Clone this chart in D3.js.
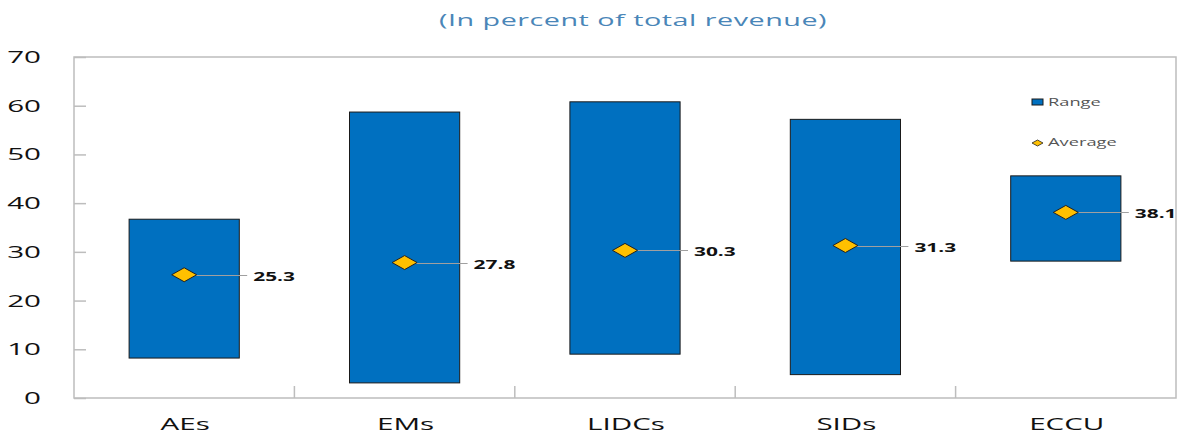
<!DOCTYPE html>
<html>
<head>
<meta charset="utf-8">
<script src="https://cdn.jsdelivr.net/npm/d3@7"></script>
<style>
  body { margin: 0; background: #fff; }
  svg { font-family: "Open Sans", "Noto Sans", sans-serif; }
</style>
</head>
<body>
<svg width="1188" height="436"></svg>
<script>
// chart data
var categories = ["AEs", "EMs", "LIDCs", "SIDs", "ECCU"];
var rangeLow = [8.2, 3.1, 9.0, 4.8, 28.1];
var rangeHigh = [36.7, 58.7, 60.8, 57.2, 45.6];
var averages = [25.3, 27.8, 30.3, 31.3, 38.1];
var yTicks = [0, 10, 20, 30, 40, 50, 60, 70];

var svg = d3.select("svg"),
    margin = {top: 57, right: 12, bottom: 38, left: 74},
    width = 1188 - margin.left - margin.right,
    height = 436 - margin.top - margin.bottom;

// the original's text is stretched sideways
var stretch = 1.74;
function placeText(sel, x, y) {
  return sel.attr("transform", function(d, i) {
    var px = typeof x === "function" ? x(d, i) : x,
        py = typeof y === "function" ? y(d, i) : y;
    return "translate(" + px + "," + py + ") scale(" + stretch + ",1)";
  });
}

placeText(svg.append("text"), 633, 26)
  .attr("text-anchor", "middle")
  .attr("font-size", "16.5px")
  .attr("letter-spacing", "0.3px")
  .attr("fill", "#4a86b8")
  .text("(In percent of total revenue)");

var xScale = d3.scaleBand().domain(categories).range([0, width]).paddingInner(0).paddingOuter(0),
    yScale = d3.scaleLinear().domain([0, 70]).range([height, 0]);

var g = svg.append("g")
  .attr("transform", "translate(" + margin.left + "," + margin.top + ")");

var axisColor = "#bdbdbd";

// frame
g.append("rect")
  .attr("x", 0).attr("y", 0)
  .attr("width", width).attr("height", height)
  .attr("fill", "none")
  .attr("stroke", axisColor)
  .attr("stroke-width", 1.5);

// y axis
var yAxis = g.append("g")
  .call(d3.axisLeft(yScale).tickValues(yTicks).tickSize(-12));
yAxis.select(".domain").remove();
yAxis.selectAll(".tick line").attr("stroke", axisColor).attr("stroke-width", 1.5);
yAxis.selectAll(".tick text")
  .attr("x", -33 / stretch)
  .attr("transform", "scale(" + stretch + ",1)")
  .attr("font-size", "17px")
  .attr("fill", "#111")
  .attr("font-family", "\"Open Sans\", sans-serif");

// x axis: ticks at category boundaries
var boundaries = categories.slice(1).map(function(c) { return xScale(c); });
g.selectAll(".xtick")
  .data(boundaries)
  .enter().append("line")
  .attr("class", "xtick")
  .attr("x1", function(d) { return d; })
  .attr("x2", function(d) { return d; })
  .attr("y1", height)
  .attr("y2", height - 12)
  .attr("stroke", axisColor)
  .attr("stroke-width", 1.5);

placeText(g.selectAll(".xlabel")
  .data(categories)
  .enter().append("text")
  .attr("class", "xlabel"),
  function(d) { return xScale(d) + xScale.bandwidth() / 2 + 1; }, height + 32)
  .attr("text-anchor", "middle")
  .attr("font-size", "17px")
  .attr("fill", "#111")
  .text(function(d) { return d; });

var barW = xScale.bandwidth() * 0.5;

// range bars
g.selectAll(".bar")
  .data(categories)
  .enter().append("rect")
  .attr("class", "bar")
  .attr("x", function(d) { return xScale(d) + (xScale.bandwidth() - barW) / 2; })
  .attr("y", function(d, i) { return yScale(rangeHigh[i]); })
  .attr("width", barW)
  .attr("height", function(d, i) { return yScale(rangeLow[i]) - yScale(rangeHigh[i]); })
  .attr("fill", "#0070c0")
  .attr("stroke", "#1a1a1a")
  .attr("stroke-width", 1);

// leader lines
g.selectAll(".leader")
  .data(categories)
  .enter().append("line")
  .attr("class", "leader")
  .attr("x1", function(d) { return xScale(d) + xScale.bandwidth() / 2; })
  .attr("x2", function(d) { return xScale(d) + xScale.bandwidth() / 2 + 63; })
  .attr("y1", function(d, i) { return Math.round(yScale(averages[i])) + 0.5; })
  .attr("y2", function(d, i) { return Math.round(yScale(averages[i])) + 0.5; })
  .attr("stroke", "#a0a0a0")
  .attr("stroke-width", 1);

// diamonds
function diamond(cx, cy, w, h) {
  return "M" + (cx - w / 2) + "," + cy + "L" + cx + "," + (cy - h / 2) +
         "L" + (cx + w / 2) + "," + cy + "L" + cx + "," + (cy + h / 2) + "Z";
}
g.selectAll(".avg")
  .data(categories)
  .enter().append("path")
  .attr("class", "avg")
  .attr("d", function(d, i) { return diamond(xScale(d) + xScale.bandwidth() / 2, yScale(averages[i]), 25, 14); })
  .attr("fill", "#ffc000")
  .attr("stroke", "#222")
  .attr("stroke-width", 1);

placeText(g.selectAll(".avglabel")
  .data(categories)
  .enter().append("text")
  .attr("class", "avglabel"),
  function(d) { return xScale(d) + xScale.bandwidth() / 2 + 69; },
  function(d, i) { return yScale(averages[i]) + 6; })
  .attr("font-size", "12px")
  .attr("font-weight", "bold")
  .attr("fill", "#111")
  .text(function(d, i) { return averages[i].toFixed(1); });

// legend
var legend = g.append("g").attr("transform", "translate(" + (1032 - margin.left) + "," + (106 - margin.top) + ")");
legend.append("rect")
  .attr("x", 0).attr("y", -7)
  .attr("width", 11).attr("height", 6)
  .attr("fill", "#0070c0").attr("stroke", "#1a1a1a").attr("stroke-width", 1);
placeText(legend.append("text"), 16, 0)
  .attr("font-size", "10.5px").attr("fill", "#555")
  .text("Range");
legend.append("path")
  .attr("d", diamond(5.5, 37, 11, 6))
  .attr("fill", "#ffc000").attr("stroke", "#222").attr("stroke-width", 0.8);
placeText(legend.append("text"), 16, 40)
  .attr("font-size", "10.5px").attr("fill", "#555")
  .text("Average");
</script>
</body>
</html>
